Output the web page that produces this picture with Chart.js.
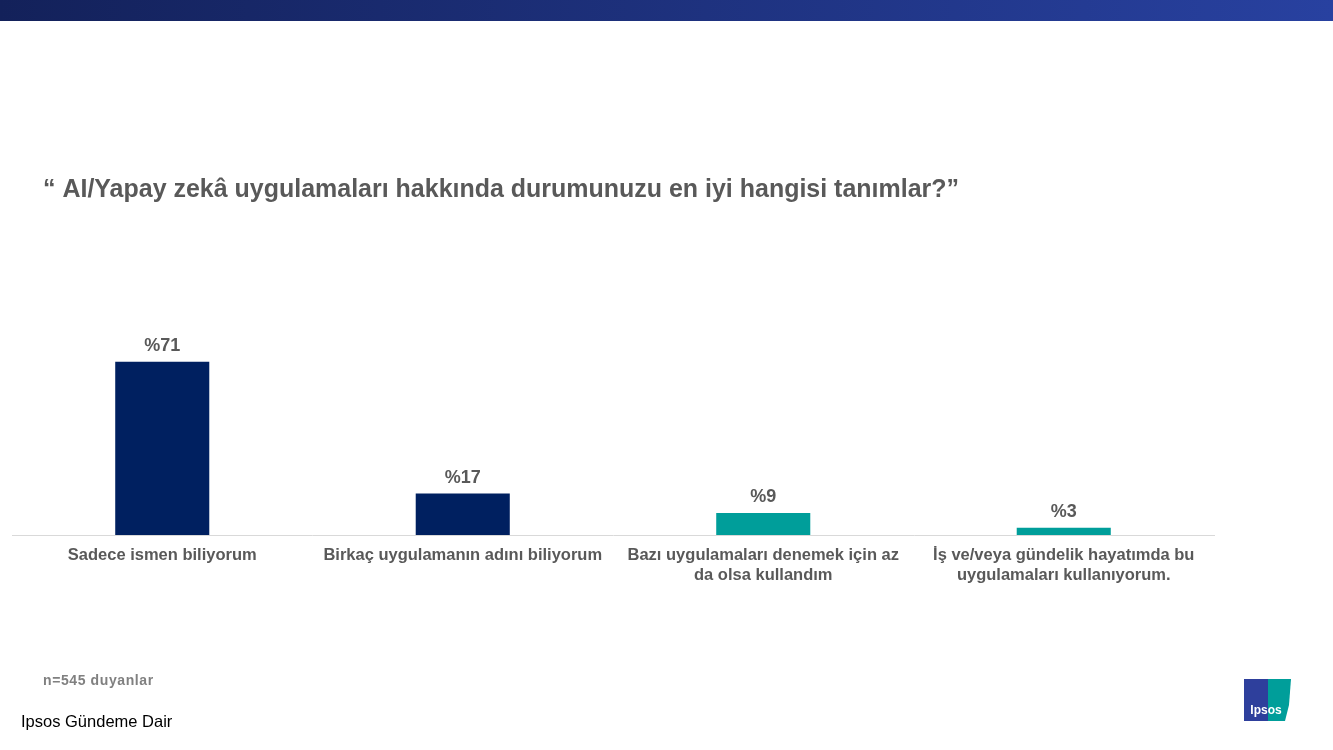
<!DOCTYPE html>
<html>
<head>
<meta charset="utf-8">
<script src="https://cdn.jsdelivr.net/npm/chart.js@4/dist/chart.umd.min.js"></script>
<style>
  html, body { margin: 0; padding: 0; background: #ffffff; }
  #wrap { position: absolute; left: 0; top: 0; width: 1333px; height: 750px; }
</style>
</head>
<body>
<div id="wrap"><canvas id="c" width="1333" height="750"></canvas></div>
<script>
const titleText = "“ AI/Yapay zekâ uygulamaları hakkında durumunuzu en iyi hangisi tanımlar?”";
const categories = [
  ["Sadece ismen biliyorum"],
  ["Birkaç uygulamanın adını biliyorum"],
  ["Bazı uygulamaları denemek için az", "da olsa kullandım"],
  ["İş ve/veya gündelik hayatımda bu", "uygulamaları kullanıyorum."]
];
const values = [71, 17, 9, 3];
const barColors = ["#002060", "#002060", "#009E9A", "#009E9A"];
const valueLabels = ["%71", "%17", "%9", "%3"];
const noteText = "n=545 duyanlar";
const footerText = "Ipsos Gündeme Dair";

const FONT = "'Liberation Sans', Arial, sans-serif";

const decor = {
  id: 'decor',
  beforeDraw(chart) {
    const ctx = chart.ctx;
    ctx.save();
    const g = ctx.createLinearGradient(0, 0, 1333, 0);
    g.addColorStop(0, '#13215a');
    g.addColorStop(1, '#2841a0');
    ctx.fillStyle = g;
    ctx.fillRect(0, 0, 1333, 21);
    ctx.restore();
  },
  afterDraw(chart) {
    const ctx = chart.ctx;
    ctx.save();
    // title
    ctx.fillStyle = '#595959';
    ctx.font = "bold 26px " + FONT;
    ctx.textBaseline = 'alphabetic';
    ctx.textAlign = 'left';
    ctx.fillText(titleText, 43, 197, 916);
    // value labels
    const meta = chart.getDatasetMeta(0);
    ctx.font = "bold 18px " + FONT;
    ctx.textAlign = 'center';
    ctx.textBaseline = 'alphabetic';
    meta.data.forEach((bar, i) => {
      ctx.fillText(valueLabels[i], bar.x, bar.y - 11);
    });
    // note
    ctx.fillStyle = '#808080';
    ctx.font = "bold 14px " + FONT;
    ctx.letterSpacing = '0.6px';
    ctx.textAlign = 'left';
    ctx.fillText(noteText, 43, 685);
    ctx.letterSpacing = '0px';
    // footer
    ctx.fillStyle = '#000000';
    ctx.font = "16.5px " + FONT;
    ctx.fillText(footerText, 21, 727);
    // logo
    ctx.fillStyle = '#2e3f9c';
    ctx.fillRect(1244, 679, 24, 42);
    ctx.fillStyle = '#009E9A';
    ctx.beginPath();
    ctx.moveTo(1268, 679);
    ctx.lineTo(1291, 679);
    ctx.lineTo(1289, 705);
    ctx.lineTo(1285, 721);
    ctx.lineTo(1268, 721);
    ctx.closePath();
    ctx.fill();
    ctx.fillStyle = '#ffffff';
    ctx.font = "bold 12px " + FONT;
    ctx.textAlign = 'center';
    ctx.fillText("Ipsos", 1266, 714);
    ctx.restore();
  }
};

new Chart(document.getElementById('c'), {
  type: 'bar',
  data: {
    labels: categories,
    datasets: [{
      data: values,
      backgroundColor: barColors,
      borderWidth: 0,
      categoryPercentage: 1.0,
      barPercentage: 0.313
    }]
  },
  options: {
    responsive: false,
    animation: false,
    layout: { padding: { left: 12, right: 119, top: 291, bottom: 155 } },
    plugins: { legend: { display: false }, tooltip: { enabled: false }, title: { display: false } },
    scales: {
      x: {
        grid: { display: false, drawTicks: false },
        border: { display: true, color: '#d9d9d9', width: 1 },
        ticks: {
          color: '#595959',
          font: { family: FONT, size: 16.5, weight: 'bold', lineHeight: 1.21 },
          padding: 10,
          maxRotation: 0,
          autoSkip: false
        }
      },
      y: {
        display: false,
        min: 0,
        max: 100
      }
    }
  },
  plugins: [decor]
});
</script>
</body>
</html>
